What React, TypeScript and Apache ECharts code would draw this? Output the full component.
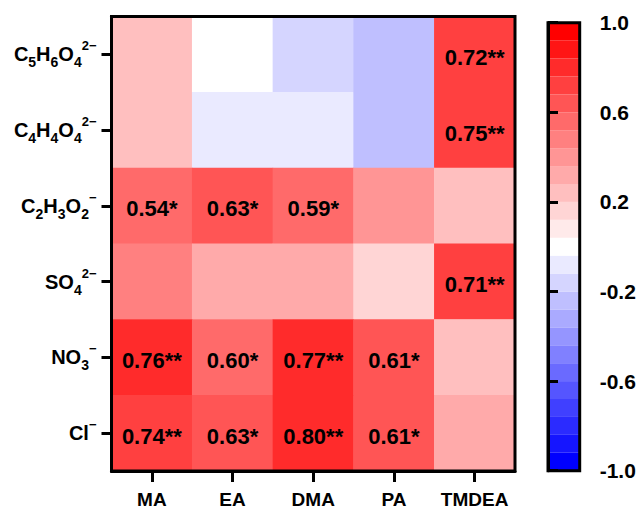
import React, { useEffect, useRef } from 'react';
import * as echarts from 'echarts';

const FONT = '"Liberation Sans", Arial, Helvetica, sans-serif';

// Column categories (x axis)
const columns = ['MA', 'EA', 'DMA', 'PA', 'TMDEA'];

// Row labels, top to bottom (rich text: m = main, s = subscript, p = superscript)
const rowLabels = [
  '{m|C}{s|5}{m|H}{s|6}{m|O}{s|4}{p|2\u2212}',
  '{m|C}{s|4}{m|H}{s|4}{m|O}{s|4}{p|2\u2212}',
  '{m|C}{s|2}{m|H}{s|3}{m|O}{s|2}{p|\u2212}',
  '{m|SO}{s|4}{p|2\u2212}',
  '{m|NO}{s|3}{p|\u2212}',
  '{m|Cl}{p|\u2212}',
];

// Correlation values per row (MA, EA, DMA, PA, TMDEA)
const rowC5H6O4 = [0.24, 0.02, -0.16, -0.24, 0.72];
const rowC4H4O4 = [0.24, -0.08, -0.08, -0.24, 0.75];
const rowC2H3O2 = [0.54, 0.63, 0.59, 0.4, 0.24];
const rowSO4 = [0.48, 0.32, 0.32, 0.16, 0.71];
const rowNO3 = [0.761, 0.599, 0.77, 0.61, 0.24];
const rowCl = [0.74, 0.63, 0.8, 0.61, 0.31];

// Significance marks per row
const sigC5H6O4 = ['', '', '', '', '**'];
const sigC4H4O4 = ['', '', '', '', '**'];
const sigC2H3O2 = ['*', '*', '*', '', ''];
const sigSO4 = ['', '', '', '', '**'];
const sigNO3 = ['**', '*', '**', '*', ''];
const sigCl = ['**', '*', '**', '*', ''];

const rowValues = [rowC5H6O4, rowC4H4O4, rowC2H3O2, rowSO4, rowNO3, rowCl];
const rowSigs = [sigC5H6O4, sigC4H4O4, sigC2H3O2, sigSO4, sigNO3, sigCl];

// Colour scale: 25 discrete levels from -1 to 1
const scaleMin = -1;
const scaleStep = 0.08;
const levelIndices = [0, 1, 2, 3, 4, 5, 6, 7, 8, 9, 10, 11, 12, 13, 14, 15, 16, 17, 18, 19, 20, 21, 22, 23, 24];
const colorbarTicks = ['-1.0', '-0.6', '-0.2', '0.2', '0.6', '1.0'];

function levelColor(k: number): string {
  if (k < 12) {
    const t = Math.round((255 * k) / 12);
    return `rgb(${t},${t},255)`;
  }
  if (k === 12) return 'rgb(255,255,255)';
  const t = Math.round((255 * (24 - k)) / 12);
  return `rgb(255,${t},${t})`;
}

const r2 = (v: number) => Math.round(v * 100) / 100;

export default function App() {
  const ref = useRef<HTMLDivElement>(null);

  useEffect(() => {
    if (!ref.current) return;
    const chart = echarts.init(ref.current, null, { renderer: 'svg' });

    const heatData: any[] = [];
    rowValues.forEach((row, r) => {
      row.forEach((v, c) => {
        heatData.push({ value: [c, r, v], sig: rowSigs[r][c] });
      });
    });

    const pieces = levelIndices.map((k) => {
      const lo = r2(scaleMin + scaleStep * k);
      const hi = r2(scaleMin + scaleStep * (k + 1));
      const p: any = { lte: hi, color: levelColor(k) };
      if (k === 0) p.gte = lo;
      else p.gt = lo;
      return p;
    });

    const option: any = {
      animation: false,
      backgroundColor: '#fff',
      textStyle: { fontFamily: FONT },
      grid: [
        {
          left: 111.5,
          top: 16.5,
          width: 403.5,
          height: 457,
          show: true,
          borderColor: '#000',
          borderWidth: 3,
          z: 10,
        },
        {
          left: 548,
          top: 22.7,
          width: 31.7,
          height: 448,
          show: true,
          borderColor: '#000',
          borderWidth: 3,
          z: 10,
        },
      ],
      xAxis: [
        {
          type: 'category',
          gridIndex: 0,
          data: columns,
          z: 10,
          axisLine: { show: true, lineStyle: { color: '#000', width: 3 } },
          axisTick: { show: true, alignWithLabel: true, interval: 0, length: 11, lineStyle: { color: '#000', width: 3 } },
          axisLabel: { interval: 0, color: '#000', fontSize: 19, fontWeight: 'bold', fontFamily: FONT, margin: 19 },
          splitLine: { show: false },
        },
        {
          type: 'value',
          gridIndex: 1,
          min: 0,
          max: 1,
          show: false,
        },
      ],
      yAxis: [
        {
          type: 'category',
          gridIndex: 0,
          data: rowLabels,
          inverse: true,
          z: 10,
          axisLine: { show: true, lineStyle: { color: '#000', width: 3 } },
          axisTick: { show: true, alignWithLabel: true, interval: 0, length: 10, lineStyle: { color: '#000', width: 3 } },
          axisLabel: {
            interval: 0,
            margin: 15,
            color: '#000',
            fontFamily: FONT,
            rich: {
              m: { fontSize: 20, fontWeight: 'bold', lineHeight: 30, color: '#000', fontFamily: FONT },
              s: { fontSize: 14, fontWeight: 'bold', lineHeight: 16, verticalAlign: 'bottom', color: '#000', fontFamily: FONT },
              p: { fontSize: 13, fontWeight: 'bold', lineHeight: 21, verticalAlign: 'top', color: '#000', fontFamily: FONT },
            },
          },
          splitLine: { show: false },
        },
        {
          type: 'value',
          gridIndex: 1,
          position: 'right',
          min: 0,
          max: levelIndices.length,
          interval: 5,
          z: 10,
          axisLine: { show: true, lineStyle: { color: '#000', width: 3 } },
          axisTick: { show: true, length: 10, lineStyle: { color: '#000', width: 3 } },
          axisLabel: {
            margin: 20,
            color: '#000',
            fontSize: 21,
            fontWeight: 'bold',
            fontFamily: FONT,
            formatter: (v: number) => colorbarTicks[Math.round(v / 5)] ?? '',
          },
          splitLine: { show: false },
        },
      ],
      visualMap: {
        type: 'piecewise',
        show: false,
        seriesIndex: 0,
        dimension: 2,
        pieces,
      },
      series: [
        {
          type: 'heatmap',
          xAxisIndex: 0,
          yAxisIndex: 0,
          data: heatData,
          emphasis: { disabled: true },
          label: {
            show: true,
            color: '#000',
            fontSize: 22,
            fontWeight: 'bold',
            fontFamily: FONT,
            offset: [0, 3],
            formatter: (p: any) => (p.data.sig ? p.data.value[2].toFixed(2) + p.data.sig : ''),
          },
        },
        {
          type: 'custom',
          xAxisIndex: 1,
          yAxisIndex: 1,
          data: levelIndices.map((k) => [0, k]),
          encode: { x: 0, y: 1 },
          renderItem: (params: any, api: any) => {
            const k = api.value(1);
            const a = api.coord([0, k]);
            const b = api.coord([1, k + 1]);
            return {
              type: 'rect',
              shape: { x: a[0], y: b[1], width: b[0] - a[0], height: a[1] - b[1] },
              style: { fill: levelColor(k) },
            };
          },
        },
      ],
    };

    chart.setOption(option);
    return () => chart.dispose();
  }, []);

  return (
    <div
      ref={ref}
      style={{ position: 'fixed', left: 0, top: 0, width: 640, height: 509, background: '#fff' }}
    />
  );
}
